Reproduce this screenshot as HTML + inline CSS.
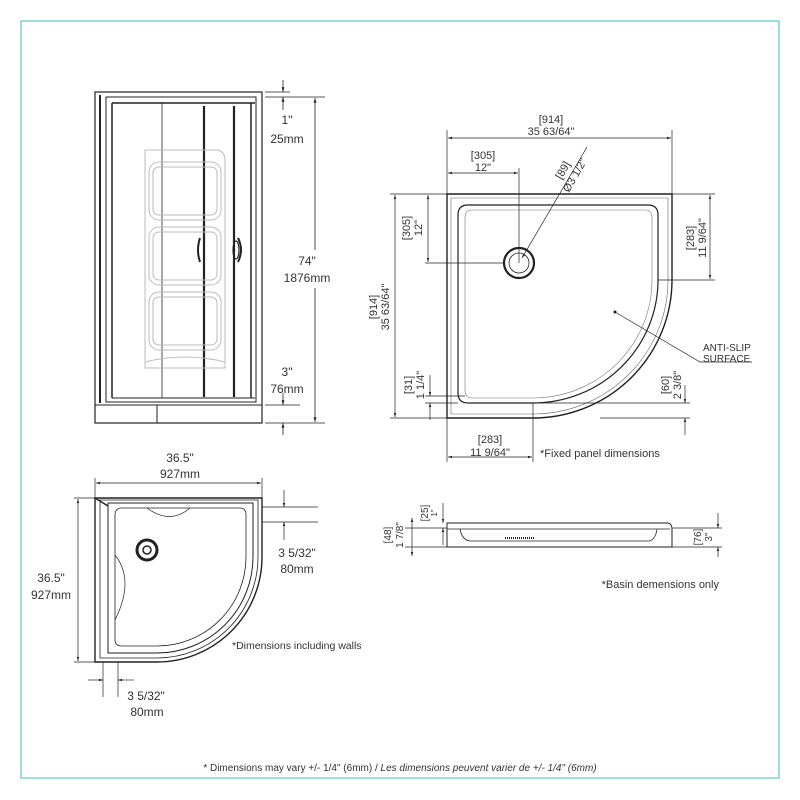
<!DOCTYPE html>
<html><head><meta charset="utf-8"><style>
html,body{margin:0;padding:0;background:#fff;}
svg{display:block;}
text{font-family:"Liberation Sans",sans-serif;fill:#333;}
</style></head><body>
<svg width="800" height="800" viewBox="0 0 800 800" xmlns="http://www.w3.org/2000/svg">
<defs>
<marker id="a" viewBox="0 0 10 10" refX="10" refY="5" markerWidth="6" markerHeight="6" orient="auto-start-reverse"><path d="M0,2 L10,5 L0,8 z" fill="#222"/></marker>
</defs>
<rect x="21" y="21" width="758" height="757" fill="none" stroke="#5cc8cc" stroke-width="1.2"/>

<!-- LEFT ELEVATION -->
<g stroke="#222" fill="none">
<rect x="95" y="92" width="167" height="331" stroke-width="1.2"/>
<line x1="95" y1="405" x2="262" y2="405"/>
<line x1="157" y1="405" x2="157" y2="423"/>
<line x1="100" y1="95" x2="100" y2="403" stroke-width="2"/>
<rect x="106" y="97" width="150" height="305" stroke-width="1"/>
<line x1="112" y1="103" x2="112" y2="398" stroke-width="1.5"/>
<line x1="112" y1="103" x2="255" y2="103" stroke-width="1.5"/>
<line x1="112" y1="398" x2="255" y2="398"/>
<line x1="162" y1="103" x2="162" y2="398" stroke-width="0.8"/>
<line x1="204" y1="106" x2="204" y2="397" stroke-width="2.2"/>
<line x1="234" y1="106" x2="234" y2="397" stroke-width="2.2"/>
<line x1="251" y1="103" x2="251" y2="398" stroke-width="1.5"/>
<path d="M200 238 Q196 250 200 262" stroke-width="2"/>
<path d="M238 238 Q244 250 238 262" stroke-width="2"/>
<ellipse cx="236" cy="250" rx="3" ry="9" stroke-width="1.2"/>
</g>
<g stroke="#bbb" fill="none" stroke-width="1">
<path d="M145 150 L215 150 Q225 150 225 160 L225 368 L145 368 Z"/>
<rect x="149" y="162" width="72" height="58" rx="10"/>
<rect x="153" y="167" width="64" height="48" rx="6"/>
<rect x="149" y="227" width="72" height="58" rx="10"/>
<rect x="153" y="232" width="64" height="48" rx="6"/>
<rect x="149" y="292" width="72" height="58" rx="10"/>
<rect x="153" y="297" width="64" height="48" rx="6"/>
<path d="M145 362 Q185 352 225 362"/>
</g>
<g stroke="#222" stroke-width="0.8" fill="none">
<line x1="265" y1="92" x2="290" y2="92"/><line x1="265" y1="97" x2="325" y2="97"/>
<line x1="265" y1="405" x2="300" y2="405"/><line x1="265" y1="423" x2="325" y2="423"/>
<line x1="315" y1="98" x2="315" y2="422" marker-start="url(#a)" marker-end="url(#a)"/>
<line x1="283" y1="80" x2="283" y2="92" marker-end="url(#a)"/>
<line x1="283" y1="110" x2="283" y2="97" marker-end="url(#a)"/>
<line x1="283" y1="393" x2="283" y2="405" marker-end="url(#a)"/>
<line x1="283" y1="435" x2="283" y2="423" marker-end="url(#a)"/>
</g>
<g font-size="12" text-anchor="middle">
<text x="287" y="124">1"</text><text x="287" y="143">25mm</text>
<rect x="283" y="250" width="50" height="38" fill="#fff"/>
<text x="307" y="265">74"</text><text x="307" y="282">1876mm</text>
<text x="287" y="376">3"</text><text x="287" y="393">76mm</text>
</g>

<!-- TOP RIGHT PLAN -->
<g stroke="#222" fill="none">
<path d="M447 194 L672 194 L672 280 A139 138 0 0 1 533 418 L447 418 Z" stroke-width="1.4"/>
<path d="M451 198 L668 198 L668 280 A135 134 0 0 1 533 414 L451 414 Z" stroke-width="0.6" stroke="#666"/>
<path d="M458 215 Q458 205 468 205 L648 205 Q658 205 658 215 L658 280 A125 123 0 0 1 533 403 L468 403 Q458 403 458 393 Z" stroke-width="1.2"/>
<path d="M465 218 Q465 210 472 210 L645 210 Q652 210 652 218 L652 280 A119 118 0 0 1 533 398 L472 398 Q465 398 465 390 Z" stroke-width="0.6" stroke="#777"/>
<circle cx="519" cy="263" r="15" stroke-width="2.2"/>
<circle cx="519" cy="263" r="10" stroke-width="0.8"/>
</g>
<g stroke="#222" stroke-width="0.7" fill="none">
<line x1="447" y1="130" x2="447" y2="194"/><line x1="672" y1="130" x2="672" y2="194"/>
<line x1="448" y1="138" x2="671" y2="138" marker-start="url(#a)" marker-end="url(#a)"/>
<line x1="519" y1="168" x2="519" y2="263"/>
<line x1="448" y1="173" x2="518" y2="173" marker-start="url(#a)" marker-end="url(#a)"/>
<line x1="587" y1="147" x2="522" y2="258" marker-end="url(#a)"/>
<line x1="390" y1="194" x2="447" y2="194"/><line x1="390" y1="418" x2="447" y2="418"/>
<line x1="395" y1="195" x2="395" y2="417" marker-start="url(#a)" marker-end="url(#a)"/>
<line x1="425" y1="263" x2="505" y2="263"/>
<line x1="428" y1="195" x2="428" y2="262" marker-start="url(#a)" marker-end="url(#a)"/>
<line x1="672" y1="194" x2="715" y2="194"/><line x1="658" y1="280" x2="715" y2="280"/>
<line x1="710" y1="195" x2="710" y2="279" marker-start="url(#a)" marker-end="url(#a)"/>
<line x1="425" y1="396" x2="465" y2="396"/><line x1="425" y1="403" x2="458" y2="403"/>
<line x1="430" y1="375" x2="430" y2="396" marker-end="url(#a)"/>
<line x1="430" y1="420" x2="430" y2="403" marker-end="url(#a)"/>
<line x1="533" y1="403" x2="690" y2="403"/><line x1="600" y1="418" x2="690" y2="418"/>
<line x1="685" y1="385" x2="685" y2="403" marker-end="url(#a)"/>
<line x1="685" y1="435" x2="685" y2="418" marker-end="url(#a)"/>
<line x1="447" y1="418" x2="447" y2="462"/><line x1="533" y1="403" x2="533" y2="462"/>
<line x1="448" y1="457" x2="532" y2="457" marker-start="url(#a)" marker-end="url(#a)"/>
<polyline points="615,312 700,362 752,362"/>
</g>
<circle cx="615" cy="312" r="1.5" fill="#222"/>
<g font-size="11" text-anchor="middle">
<text x="551" y="123">[914]</text><text x="551" y="135">35 63/64"</text>
<text x="483" y="159">[305]</text><text x="483" y="171">12"</text>
<text transform="translate(566,172) rotate(-60)">[89]</text>
<text transform="translate(578,177) rotate(-60)">Ø3 1/2"</text>
<text transform="translate(377,307) rotate(-90)">[914]</text>
<text transform="translate(389,307) rotate(-90)">35 63/64"</text>
<text transform="translate(410,228) rotate(-90)">[305]</text>
<text transform="translate(422,228) rotate(-90)">12"</text>
<text transform="translate(694,238) rotate(-90)">[283]</text>
<text transform="translate(706,238) rotate(-90)">11 9/64"</text>
<text transform="translate(412,385) rotate(-90)">[31]</text>
<text transform="translate(424,385) rotate(-90)">1 1/4"</text>
<text transform="translate(669,385) rotate(-90)">[60]</text>
<text transform="translate(681,385) rotate(-90)">2 3/8"</text>
<text x="490" y="443">[283]</text><text x="490" y="456">11 9/64"</text>
<text x="540" y="457" text-anchor="start">*Fixed panel dimensions</text>
<text x="703" y="351" text-anchor="start" font-size="10">ANTI-SLIP</text>
<text x="703" y="362" text-anchor="start" font-size="10">SURFACE</text>
</g>

<!-- BOTTOM LEFT PLAN -->
<g stroke="#222" fill="none">
<path d="M95 498 L262 498 L262 557 A105 105 0 0 1 157 662 L95 662 Z" stroke-width="1.4"/>
<path d="M100 500 L258 500 L258 557 A101 101 0 0 1 157 658 L100 658 Z" stroke-width="0.8"/>
<path d="M108 503 L253 503 L253 557 A96 96 0 0 1 157 653 L108 653 Z" stroke-width="1"/>
<path d="M115 515 Q115 508 122 508 L240 508 Q246 508 246 515 L246 557 A89 89 0 0 1 157 646 L122 646 Q115 646 115 640 Z" stroke-width="0.8"/>
<path d="M147 508 Q170 525 190 508" stroke-width="0.7"/>
<path d="M115 555 Q135 580 115 620" stroke-width="0.7"/>
<circle cx="147" cy="550" r="10" stroke-width="3"/>
<circle cx="147" cy="550" r="4" stroke-width="1.5"/>
<line x1="95" y1="498" x2="108" y2="506" stroke-width="1.5"/>
</g>
<g stroke="#222" stroke-width="0.7" fill="none">
<line x1="95" y1="478" x2="95" y2="498"/><line x1="262" y1="478" x2="262" y2="498"/>
<line x1="96" y1="483" x2="261" y2="483" marker-start="url(#a)" marker-end="url(#a)"/>
<line x1="74" y1="498" x2="95" y2="498"/><line x1="74" y1="662" x2="95" y2="662"/>
<line x1="78" y1="499" x2="78" y2="661" marker-start="url(#a)" marker-end="url(#a)"/>
<line x1="262" y1="507" x2="318" y2="507"/><line x1="262" y1="522" x2="318" y2="522"/>
<line x1="284" y1="490" x2="284" y2="507" marker-end="url(#a)"/>
<line x1="284" y1="540" x2="284" y2="522" marker-end="url(#a)"/>
<line x1="103" y1="662" x2="103" y2="697"/><line x1="118" y1="662" x2="118" y2="697"/>
<line x1="88" y1="680" x2="103" y2="680" marker-end="url(#a)"/>
<line x1="134" y1="680" x2="118" y2="680" marker-end="url(#a)"/>
</g>
<g font-size="12" text-anchor="middle">
<text x="180" y="462">36.5"</text><text x="180" y="478">927mm</text>
<rect x="25" y="565" width="52" height="38" fill="#fff"/>
<text x="51" y="582">36.5"</text><text x="51" y="599">927mm</text>
<text x="297" y="557">3 5/32"</text><text x="297" y="573">80mm</text>
<text x="146" y="700">3 5/32"</text><text x="147" y="716">80mm</text>
<text x="232" y="649" text-anchor="start" font-size="10.5">*Dimensions including walls</text>
</g>

<!-- SIDE VIEW -->
<g stroke="#222" fill="none">
<path d="M447 523 L668 523 Q672 524 672 529 L672 547 L447 547 Z" stroke-width="1"/>
<line x1="447" y1="529" x2="670" y2="529" stroke-width="0.8"/>
<path d="M460 529 Q462 540 470 541 L650 541 Q656 538 657 529" stroke-width="0.8"/>
<line x1="505" y1="538" x2="535" y2="538" stroke-width="2" stroke-dasharray="1 1"/>
</g>
<g stroke="#222" stroke-width="0.7" fill="none">
<line x1="405" y1="528" x2="447" y2="528"/><line x1="405" y1="547" x2="447" y2="547"/>
<line x1="443" y1="503" x2="443" y2="523" marker-end="url(#a)"/>
<line x1="443" y1="545" x2="443" y2="528" marker-end="url(#a)"/>
<line x1="412" y1="518" x2="412" y2="556" marker-start="url(#a)" marker-end="url(#a)"/>
<line x1="672" y1="528" x2="722" y2="528"/><line x1="672" y1="547" x2="722" y2="547"/>
<line x1="718" y1="513" x2="718" y2="528" marker-end="url(#a)"/>
<line x1="718" y1="557" x2="718" y2="547" marker-end="url(#a)"/>
</g>
<g font-size="10" text-anchor="middle">
<text transform="translate(428,513) rotate(-90)">[25]</text>
<text transform="translate(437,513) rotate(-90)" font-size="8">1"</text>
<text transform="translate(391,535) rotate(-90)">[48]</text>
<text transform="translate(403,535) rotate(-90)">1 7/8"</text>
<text transform="translate(701,537) rotate(-90)">[76]</text>
<text transform="translate(712,537) rotate(-90)">3"</text>
</g>
<text x="719" y="588" font-size="11" text-anchor="end">*Basin demensions only</text>

<text x="400" y="771" font-size="10" text-anchor="middle">* Dimensions may vary +/- 1/4" (6mm) / <tspan font-style="italic">Les dimensions peuvent varier de +/- 1/4" (6mm)</tspan></text>
</svg>
</body></html>
